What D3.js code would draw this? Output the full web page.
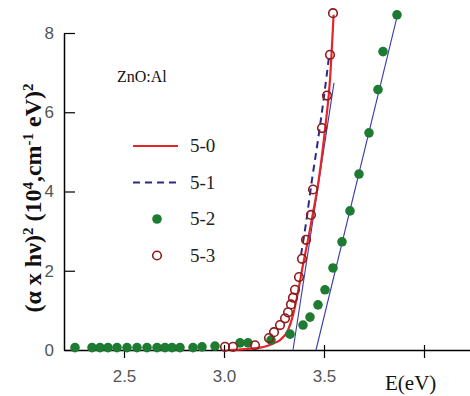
<!DOCTYPE html>
<html>
<head>
<meta charset="utf-8">
<script src="https://cdn.jsdelivr.net/npm/d3@7/dist/d3.min.js"></script>
<style>
	body { margin: 0; background: #fff; }
	svg { display: block; }
</style>
</head>
<body>
<div id="chart"></div>
<script>
// values

// 5-0 : red solid curve
const e50 = [3.03, 3.1, 3.18, 3.215, 3.25, 3.28, 3.32, 3.345, 3.37, 3.395, 3.42, 3.445, 3.47, 3.505, 3.53, 3.548]
const v50 = [0.0, 0.02, 0.06, 0.1, 0.17, 0.25, 0.5, 0.88, 1.46, 2.15, 2.78, 3.46, 4.17, 5.56, 6.82, 8.46]

// 5-1 : dashed navy curve
const e51 = [3.385, 3.41, 3.44, 3.47, 3.5, 3.525]
const v51 = [2.4, 3.2, 4.3, 5.3, 6.4, 7.4]

// 5-2 : filled green points
const e52 = [2.255, 2.34, 2.38, 2.42, 2.465, 2.515, 2.565, 2.615, 2.665, 2.705, 2.74, 2.78, 2.845, 2.89, 2.955,
	3.08, 3.12, 3.235, 3.33, 3.395, 3.43, 3.47, 3.505, 3.545, 3.59, 3.63, 3.675, 3.725, 3.77, 3.795, 3.865]
const v52 = [0.06, 0.06, 0.06, 0.06, 0.06, 0.06, 0.06, 0.06, 0.06, 0.06, 0.06, 0.06, 0.06, 0.08, 0.1,
	0.18, 0.18, 0.25, 0.4, 0.63, 0.83, 1.14, 1.52, 2.07, 2.73, 3.51, 4.44, 5.48, 6.57, 7.53, 8.46]

// 5-3 : open dark red circles
const e53 = [3.005, 3.045, 3.155, 3.225, 3.25, 3.28, 3.305, 3.32, 3.335, 3.345, 3.355, 3.375, 3.39, 3.41, 3.435, 3.445, 3.49, 3.515, 3.53, 3.545]
const v53 = [0.08, 0.08, 0.12, 0.3, 0.45, 0.63, 0.8, 0.95, 1.15, 1.32, 1.52, 1.84, 2.3, 2.78, 3.41, 4.05, 5.6, 6.42, 7.45, 8.5]

// straight extrapolation lines (thin blue)
const fitA = { e: [3.345, 3.55], v: [0, 6.74] }
const fitB = { e: [3.46, 3.872], v: [0, 8.55] }

const xTicks = [2.5, 3.0, 3.5, 4.0]
const xTickLabels = ['2.5', '3.0', '3.5', '']
const yTicks = [0, 2, 4, 6, 8]
const legendNames = ['5-0', '5-1', '5-2', '5-3']

const svgWidth = 470
const svgHeight = 396
const serif = "'Liberation Serif', 'DejaVu Serif', 'Times New Roman', serif"
const sans = "'Liberation Sans', Arial, sans-serif"

const svg = d3
	.select('#chart')
	.append('svg')
	.attr('width', svgWidth)
	.attr('height', svgHeight)

const x = d3.scaleLinear().domain([2.2, 4.23]).range([64, 470])
const y = d3.scaleLinear().domain([0, 8]).range([350, 33])

const zip = (es, vs) => es.map((e, i) => ({ e: e, v: vs[i] }))

// axes
const xAxis = svg
	.append('g')
	.attr('transform', `translate(0,${y(0)})`)
	.call(
		d3.axisBottom(x)
			.tickValues(xTicks)
			.tickFormat((d, i) => xTickLabels[i])
			.tickSizeInner(8)
			.tickSizeOuter(0)
			.tickPadding(12)
	)
xAxis.select('.domain').attr('stroke-width', 1.5)
xAxis.selectAll('.tick line').attr('y1', -5).attr('stroke-width', 1.2)
xAxis.selectAll('.tick text')
	.attr('font-family', sans)
	.attr('font-size', 17)
	.attr('fill', '#555')

const yAxis = svg
	.append('g')
	.attr('transform', `translate(${x(2.2)},0)`)
	.call(
		d3.axisLeft(y)
			.tickValues(yTicks)
			.tickSizeInner(-11)
			.tickSizeOuter(0)
			.tickPadding(10)
	)
yAxis.select('.domain').attr('stroke-width', 1.5)
yAxis.selectAll('.tick line').attr('stroke-width', 1.2)
yAxis.selectAll('.tick text')
	.attr('font-family', sans)
	.attr('font-size', 17)
	.attr('fill', '#555')

// axis titles
svg.append('text')
	.attr('x', 385)
	.attr('y', 390)
	.attr('font-family', serif)
	.attr('font-size', 21)
	.attr('fill', '#111')
	.text('E(eV)')

const yTitle = svg.append('text')
	.attr('transform', 'translate(41,198) rotate(-90)')
	.attr('text-anchor', 'middle')
	.attr('font-family', serif)
	.attr('font-size', 24)
	.attr('font-weight', 'bold')
	.attr('fill', '#111')
const sup = (t) => yTitle.append('tspan').attr('baseline-shift', 'super').attr('font-size', 15).text(t)
yTitle.append('tspan').text('(α x hν)')
sup('2')
yTitle.append('tspan').text(' (10')
sup('4')
yTitle.append('tspan').text(',cm')
sup('-1')
yTitle.append('tspan').text('  eV)')
sup('2')

// thin blue fit lines
const line = d3.line().x((d) => x(d.e)).y((d) => y(d.v))
;[fitA, fitB].forEach((f) => {
	svg.append('path')
		.datum(zip(f.e, f.v))
		.attr('fill', 'none')
		.attr('stroke', '#3a3aa8')
		.attr('stroke-width', 1.1)
		.attr('d', line)
})

const smooth = d3.line().curve(d3.curveMonotoneX).x((d) => x(d.e)).y((d) => y(d.v))

// 5-1 dashed
svg.append('path')
	.datum(zip(e51, v51))
	.attr('fill', 'none')
	.attr('stroke', '#2b2b85')
	.attr('stroke-width', 2)
	.attr('stroke-dasharray', '7,5')
	.attr('d', smooth)

// 5-0 red
svg.append('path')
	.datum(zip(e50, v50))
	.attr('fill', 'none')
	.attr('stroke', '#e3262a')
	.attr('stroke-width', 2.2)
	.attr('d', smooth)

// 5-2 green
svg.append('g')
	.selectAll('circle')
	.data(zip(e52, v52))
	.enter()
	.append('circle')
	.attr('cx', (d) => x(d.e))
	.attr('cy', (d) => y(d.v))
	.attr('r', 4.8)
	.attr('fill', '#1e7b32')

// 5-3 open circles
svg.append('g')
	.selectAll('circle')
	.data(zip(e53, v53))
	.enter()
	.append('circle')
	.attr('cx', (d) => x(d.e))
	.attr('cy', (d) => y(d.v))
	.attr('r', 4.3)
	.attr('fill', 'none')
	.attr('stroke', '#8e1c1c')
	.attr('stroke-width', 1.6)

// legend
svg.append('text')
	.attr('x', 117)
	.attr('y', 82)
	.attr('font-family', serif)
	.attr('font-size', 16)
	.attr('fill', '#111')
	.text('ZnO:Al')

const legend = svg.append('g')
legendNames.forEach((name, i) => {
	const cy = 146 + i * 36.5
	const row = legend.append('g')
	if (i === 0) {
		row.append('line').attr('x1', 133).attr('x2', 178).attr('y1', cy).attr('y2', cy)
			.attr('stroke', '#e3262a').attr('stroke-width', 2.2)
	} else if (i === 1) {
		row.append('line').attr('x1', 133).attr('x2', 178).attr('y1', cy).attr('y2', cy)
			.attr('stroke', '#2b2b85').attr('stroke-width', 2).attr('stroke-dasharray', '7,5')
	} else if (i === 2) {
		row.append('circle').attr('cx', 157).attr('cy', cy).attr('r', 4.8).attr('fill', '#1e7b32')
	} else {
		row.append('circle').attr('cx', 157).attr('cy', cy).attr('r', 4.3)
			.attr('fill', 'none').attr('stroke', '#8e1c1c').attr('stroke-width', 1.6)
	}
	row.append('text')
		.attr('x', 190)
		.attr('y', cy + 6)
		.attr('font-family', serif)
		.attr('font-size', 19)
		.attr('fill', '#222')
		.text(name)
})
</script>
</body>
</html>
